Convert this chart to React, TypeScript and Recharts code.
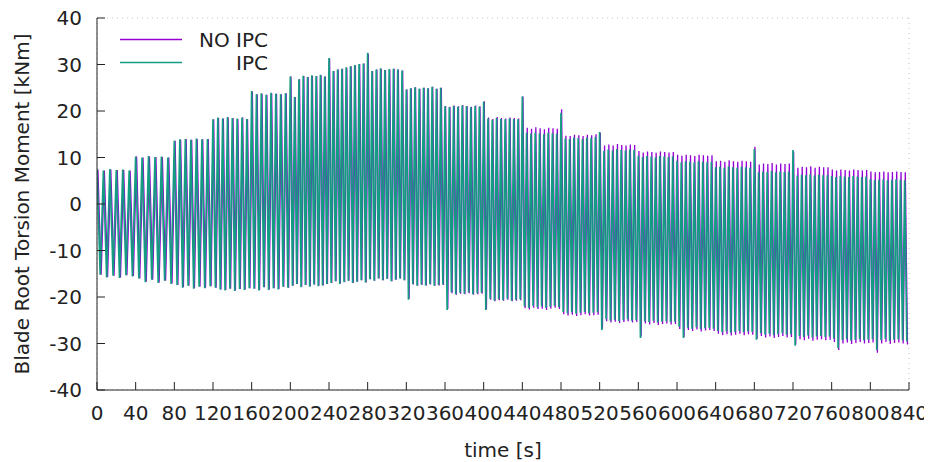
import React from "react";
import { LineChart, Line, XAxis, YAxis, CartesianGrid } from "recharts";

// start time [s] of each 40 s wind step
const blockStarts = [0, 40, 80, 120, 160, 200, 240, 280, 320, 360, 400, 440, 480, 520, 560, 600, 640, 680, 720, 760, 800];
const xTicks = [0, 40, 80, 120, 160, 200, 240, 280, 320, 360, 400, 440, 480, 520, 560, 600, 640, 680, 720, 760, 800, 840];
const yTicks = [-40, -30, -20, -10, 0, 10, 20, 30, 40];

// per-cycle maxima / minima in each step [kNm]
const ipcPeaks = [
  [7.4, 7.2, 7.5, 7.3, 7.4, 7.2],
  [10.2, 10.0, 10.3, 10.1, 10.2, 10.0],
  [13.6, 13.9, 14.0, 13.8, 14.1, 13.9, 14.0],
  [18.2, 18.6, 18.4, 18.7, 18.5, 18.4, 18.6, 18.3],
  [24.3, 23.6, 23.8, 23.5, 23.9, 23.7, 23.6, 23.8],
  [27.4, 23.0, 26.8, 27.6, 27.3, 27.7, 27.5, 27.8, 27.4],
  [31.4, 28.6, 28.9, 29.1, 29.4, 29.6, 29.9, 30.1, 30.2],
  [32.5, 28.6, 28.9, 29.2, 28.8, 29.0, 29.1, 28.9, 28.7],
  [24.6, 24.9, 25.1, 24.8, 25.0, 24.9, 25.2, 24.8, 25.0],
  [21.0, 20.8, 21.1, 20.9, 21.2, 21.0, 20.8, 21.1, 20.9],
  [22.0, 18.4, 18.1, 18.5, 18.3, 18.2, 18.4, 18.3, 18.2],
  [23.1, 15.3, 15.1, 15.4, 15.2, 15.0, 15.3, 15.2, 15.1],
  [19.6, 14.1, 14.0, 14.3, 14.2, 14.0, 14.3, 14.2, 14.4],
  [15.5, 11.4, 11.7, 11.5, 11.8, 11.6, 11.5, 11.7, 11.6],
  [10.4, 10.1, 10.3, 10.2, 10.0, 10.3, 10.2, 10.1, 10.2],
  [9.3, 9.0, 9.2, 9.1, 8.9, 9.2, 9.1, 9.0, 9.1],
  [7.9, 8.0, 7.8, 8.1, 7.9, 7.8, 8.0, 7.9, 7.8],
  [11.8, 6.8, 7.0, 6.9, 7.1, 6.8, 7.0, 6.9, 7.0],
  [11.6, 6.1, 6.3, 6.2, 6.4, 6.1, 6.3, 6.2, 6.2],
  [6.0, 5.8, 6.0, 5.9, 5.8, 6.0, 5.9, 5.8, 5.9],
  [5.3, 5.1, 5.2, 5.3, 5.1, 5.2, 5.3, 5.2, 5.1],
];

const ipcTroughs = [
  [-15.2, -15.8, -15.4, -15.9, -15.3, -15.6],
  [-16.0, -16.8, -16.3, -17.0, -16.5, -17.2],
  [-17.4, -18.0, -17.6, -18.2, -17.8, -18.1, -17.7],
  [-18.0, -18.4, -18.6, -18.2, -18.7, -18.3, -18.5, -18.1],
  [-18.2, -18.6, -17.9, -18.5, -18.1, -18.4, -17.8, -18.0],
  [-17.6, -17.2, -17.9, -17.4, -17.8, -17.3, -17.7, -17.5, -17.2],
  [-17.0, -16.6, -17.2, -16.8, -16.5, -17.0, -16.7, -16.4, -16.9],
  [-16.2, -16.5, -16.0, -16.4, -16.1, -16.6, -16.3, -16.0, -16.4],
  [-20.6, -17.2, -17.6, -17.3, -17.5, -17.2, -17.6, -17.4, -17.3],
  [-22.8, -19.0, -19.4, -19.1, -19.3, -19.0, -19.4, -19.2, -19.1],
  [-22.8, -20.4, -20.8, -20.5, -20.7, -20.4, -20.8, -20.6, -20.5],
  [-22.0, -22.3, -21.9, -22.2, -22.0, -22.3, -22.1, -21.9, -22.2],
  [-23.2, -23.5, -23.3, -23.6, -23.4, -23.2, -23.5, -23.4, -23.3],
  [-27.1, -24.8, -25.1, -24.9, -25.2, -25.0, -24.8, -25.1, -25.0],
  [-28.8, -25.2, -25.4, -25.1, -25.5, -25.3, -25.2, -25.4, -25.3],
  [-26.4, -28.8, -26.6, -26.8, -26.5, -26.9, -26.7, -26.6, -26.8],
  [-27.3, -27.6, -27.4, -27.7, -27.5, -27.3, -27.6, -27.4, -27.5],
  [-29.2, -27.8, -28.1, -27.9, -28.2, -28.0, -27.8, -28.1, -28.0],
  [-30.5, -28.4, -28.6, -28.3, -28.7, -28.5, -28.4, -28.6, -28.5],
  [-29.0, -31.0, -29.3, -29.1, -29.4, -29.2, -29.0, -29.3, -29.2],
  [-29.1, -31.4, -29.3, -29.0, -29.4, -29.2, -29.1, -29.3, -29.5],
];

const noIpcPeaks = [
  [7.4, 7.2, 7.4, 7.3, 7.3, 7.2],
  [10.2, 10.0, 10.2, 10.1, 10.1, 10.0],
  [13.6, 13.8, 14.0, 13.8, 14.0, 13.9, 14.0],
  [18.2, 18.5, 18.4, 18.6, 18.5, 18.3, 18.6, 18.3],
  [24.2, 23.6, 23.7, 23.5, 23.8, 23.7, 23.6, 23.8],
  [27.4, 23.0, 26.8, 27.5, 27.3, 27.6, 27.5, 27.7, 27.4],
  [31.3, 28.6, 28.9, 29.1, 29.3, 29.6, 29.8, 30.1, 30.2],
  [32.3, 28.6, 28.9, 29.1, 28.8, 29.0, 29.1, 28.9, 28.7],
  [24.6, 24.9, 25.1, 24.8, 25.0, 24.9, 25.2, 24.8, 25.0],
  [21.1, 20.9, 21.2, 21.0, 21.3, 21.1, 20.9, 21.2, 21.0],
  [22.1, 18.6, 18.3, 18.7, 18.5, 18.4, 18.6, 18.5, 18.4],
  [23.1, 16.4, 16.2, 16.5, 16.3, 16.1, 16.4, 16.3, 16.2],
  [20.4, 14.7, 14.6, 14.9, 14.8, 14.6, 14.9, 14.8, 15.0],
  [15.3, 12.6, 12.8, 12.6, 12.9, 12.7, 12.6, 12.8, 12.7],
  [11.4, 11.1, 11.3, 11.2, 11.0, 11.3, 11.2, 11.1, 11.2],
  [10.6, 10.4, 10.6, 10.5, 10.3, 10.6, 10.5, 10.4, 10.5],
  [9.2, 9.3, 9.1, 9.4, 9.2, 9.1, 9.3, 9.2, 9.1],
  [12.3, 8.5, 8.7, 8.6, 8.8, 8.5, 8.7, 8.6, 8.7],
  [11.3, 7.8, 8.0, 7.9, 8.1, 7.8, 8.0, 7.9, 7.9],
  [7.4, 7.2, 7.4, 7.3, 7.2, 7.4, 7.3, 7.2, 7.3],
  [7.0, 6.8, 6.9, 7.0, 6.8, 6.9, 7.0, 6.9, 6.8],
];

const noIpcTroughs = [
  [-15.2, -15.7, -15.4, -15.8, -15.3, -15.5],
  [-16.0, -16.7, -16.3, -16.9, -16.5, -17.1],
  [-17.4, -17.9, -17.6, -18.1, -17.8, -18.0, -17.7],
  [-18.0, -18.4, -18.5, -18.2, -18.6, -18.3, -18.4, -18.1],
  [-18.2, -18.5, -17.9, -18.4, -18.1, -18.3, -17.8, -18.0],
  [-17.6, -17.2, -17.8, -17.4, -17.7, -17.3, -17.6, -17.5, -17.2],
  [-17.0, -16.6, -17.1, -16.8, -16.5, -17.0, -16.7, -16.4, -16.9],
  [-16.2, -16.5, -16.0, -16.4, -16.1, -16.6, -16.3, -16.0, -16.4],
  [-20.4, -17.3, -17.6, -17.4, -17.5, -17.3, -17.6, -17.5, -17.4],
  [-22.6, -19.2, -19.5, -19.3, -19.4, -19.2, -19.5, -19.4, -19.3],
  [-22.7, -20.6, -20.9, -20.7, -20.8, -20.6, -20.9, -20.8, -20.7],
  [-22.4, -22.7, -22.3, -22.6, -22.5, -22.8, -22.5, -22.3, -22.6],
  [-23.7, -24.0, -23.8, -24.1, -23.9, -23.7, -24.0, -23.9, -23.8],
  [-26.8, -25.2, -25.5, -25.3, -25.6, -25.4, -25.2, -25.5, -25.4],
  [-28.5, -25.7, -25.9, -25.6, -26.0, -25.8, -25.7, -25.9, -25.8],
  [-26.9, -28.6, -27.1, -27.3, -27.0, -27.4, -27.2, -27.1, -27.3],
  [-27.9, -28.2, -28.0, -28.3, -28.1, -27.9, -28.2, -28.0, -28.1],
  [-29.0, -28.4, -28.7, -28.5, -28.8, -28.6, -28.4, -28.7, -28.6],
  [-30.2, -29.1, -29.3, -29.0, -29.4, -29.2, -29.1, -29.3, -29.2],
  [-29.7, -31.4, -30.0, -29.8, -30.1, -29.9, -29.7, -30.0, -29.9],
  [-29.8, -32.0, -30.0, -29.7, -30.1, -29.9, -29.8, -30.0, -30.2],
];

const BLOCK_LEN = 40;
const NO_IPC_COLOR = "#9400d3";
const IPC_COLOR = "#139c82";
const FONT = "'DejaVu Sans', sans-serif";
const FS = 20;
const W = 932;
const H = 462;

type Pt = { t: number; v: number };

function buildSeries(peaks: number[][], troughs: number[][], phase: number): Pt[] {
  const pts: Pt[] = [];
  blockStarts.forEach((start, b) => {
    const n = peaks[b].length;
    const period = BLOCK_LEN / n;
    for (let k = 0; k < n; k++) {
      pts.push({ t: start + (k + phase) * period, v: peaks[b][k] });
      pts.push({ t: start + (k + phase + 0.5) * period, v: troughs[b][k] });
    }
  });
  return pts;
}

const ipcData = buildSeries(ipcPeaks, ipcTroughs, 0);
const noIpcData = buildSeries(noIpcPeaks, noIpcTroughs, 0.14);

const tickStyle = { fontSize: FS, fill: "#222", fontFamily: FONT };
const legendItems = [
  { name: "NO IPC", color: NO_IPC_COLOR },
  { name: "IPC", color: IPC_COLOR },
];

export default function App() {
  return (
    <div style={{ position: "relative", left: -8, top: -8, width: W, height: H, fontFamily: FONT }}>
      <LineChart width={W} height={H} margin={{ top: 18, right: 23, bottom: 0, left: 0 }}>
        <CartesianGrid stroke="#c4c4c4" strokeDasharray="1 4" strokeWidth={1} />
        <XAxis
          xAxisId="bottom"
          type="number"
          dataKey="t"
          domain={[0, 840]}
          ticks={xTicks}
          interval={0}
          height={72}
          tickSize={-8}
          tickMargin={24}
          tick={tickStyle}
          stroke="#222"
          allowDataOverflow
          label={{ value: "time [s]", position: "insideBottom", offset: 5, style: { fontSize: FS, fill: "#222", fontFamily: FONT } }}
        />
        <XAxis
          xAxisId="top"
          orientation="top"
          type="number"
          dataKey="t"
          domain={[0, 840]}
          ticks={xTicks}
          interval={0}
          height={0}
          tickSize={-8}
          tick={false}
          stroke="#222"
          allowDataOverflow
        />
        <YAxis
          yAxisId="left"
          type="number"
          domain={[-40, 40]}
          ticks={yTicks}
          interval={0}
          width={97}
          tickSize={-8}
          tickMargin={23}
          tick={tickStyle}
          stroke="#222"
          allowDataOverflow
          label={{
            value: "Blade Root Torsion Moment [kNm]",
            angle: -90,
            position: "insideLeft",
            offset: 22,
            style: { fontSize: FS, fill: "#222", fontFamily: FONT, textAnchor: "middle" },
          }}
        />
        <YAxis
          yAxisId="right"
          orientation="right"
          type="number"
          domain={[-40, 40]}
          ticks={yTicks}
          interval={0}
          width={0}
          tickSize={-8}
          tick={false}
          stroke="#222"
          allowDataOverflow
        />
        <Line
          xAxisId="bottom"
          yAxisId="left"
          data={noIpcData}
          dataKey="v"
          name="NO IPC"
          type="linear"
          stroke={NO_IPC_COLOR}
          strokeWidth={1.3}
          dot={false}
          isAnimationActive={false}
        />
        <Line
          xAxisId="bottom"
          yAxisId="left"
          data={ipcData}
          dataKey="v"
          name="IPC"
          type="linear"
          stroke={IPC_COLOR}
          strokeWidth={1.7}
          dot={false}
          isAnimationActive={false}
        />
      </LineChart>
      <div style={{ position: "absolute", left: 0, top: 0, width: W, height: H, pointerEvents: "none" }}>
        <svg width={W} height={90} style={{ position: "absolute", left: 0, top: 0 }}>
          {legendItems.map((it, i) => (
            <line key={it.name} x1={120} x2={182} y1={39.5 + i * 23} y2={39.5 + i * 23} stroke={it.color} strokeWidth={1.4} />
          ))}
        </svg>
        {legendItems.map((it, i) => (
          <div
            key={it.name}
            style={{
              position: "absolute",
              right: W - 268,
              top: 28 + i * 23,
              fontSize: FS,
              color: "#222",
              lineHeight: "24px",
              whiteSpace: "nowrap",
              textAlign: "right",
            }}
          >
            {it.name}
          </div>
        ))}
      </div>
    </div>
  );
}
